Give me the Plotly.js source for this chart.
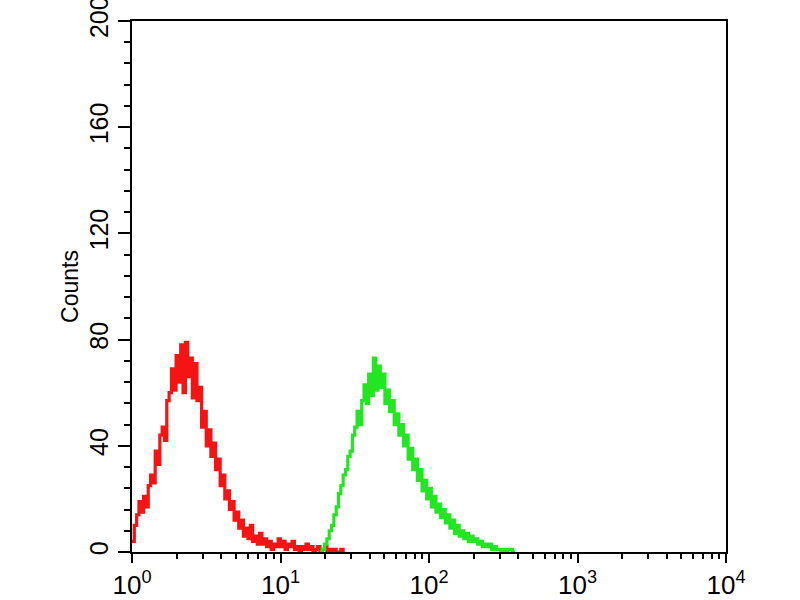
<!DOCTYPE html>
<html>
<head>
<meta charset="utf-8">
<script src="https://cdn.plot.ly/plotly-3.0.1.min.js"></script>
<style>html,body{margin:0;padding:0;background:#fff;}#chart{width:800px;height:600px;}</style>
</head>
<body>
<div id="chart"></div>
<script>
// Histogram channels: 256 log channels over 4 decades (64 channels per decade)
const channelsPerDecade = 64;

// Red histogram (control), counts per channel starting at channel 0
const redStartChannel = 0;
const redCounts = [4,10,14,19,15,21,17,25,29,26,38,33,44,47,42,57,60,69,61,74,
  64,78,60,79,66,73,58,71,57,62,47,53,40,46,36,41,31,35,25,29,
  20,23,16,19,12,15,9,12,6,9,5,10,4,6,3,7,3,5,2,4,
  1,3,2,5,2,4,1,3,2,4,1,2,0,2,1,3,1,2,0,1,
  2,0,1,2,0,1,0,1,0,0,1,0];

// Green histogram (antibody), counts per channel starting at channel 81
const greenStartChannel = 81;
const greenCounts = [0,1,3,5,8,10,14,17,22,25,29,31,36,38,44,47,53,48,57,63,
  56,67,59,73,61,70,62,67,56,61,53,57,48,52,44,48,40,44,35,39,
  31,35,27,31,23,27,20,24,17,21,15,18,13,16,11,14,9,12,7,10,
  6,8,5,7,4,6,4,5,3,4,2,3,2,3,1,2,1,1,0,1,0,1,1,0,0];

const xTickVals = [1, 10, 100, 1000, 10000];
const xTickText = ['10<sup>0</sup>', '10<sup>1</sup>', '10<sup>2</sup>', '10<sup>3</sup>', '10<sup>4</sup>'];
const yTitle = 'Counts';

function channelToValue(start, n) {
  const xs = [];
  for (let i = 0; i < n; i++) xs.push(Math.pow(10, (start + i) / channelsPerDecade));
  return xs;
}

const traces = [
  {
    x: channelToValue(redStartChannel, redCounts.length),
    y: redCounts,
    type: 'scatter', mode: 'lines',
    line: {color: '#f41414', width: 3.2, shape: 'hv'},
    hoverinfo: 'skip'
  },
  {
    x: channelToValue(greenStartChannel, greenCounts.length),
    y: greenCounts,
    type: 'scatter', mode: 'lines',
    line: {color: '#22e622', width: 3.2, shape: 'hv'},
    hoverinfo: 'skip'
  }
];

const font = {family: '"Liberation Sans", Arial, sans-serif', color: '#000'};

const layout = {
  width: 800, height: 600,
  margin: {l: 132, r: 74, t: 21, b: 48},
  paper_bgcolor: '#fff', plot_bgcolor: '#fff',
  showlegend: false,
  font: font,
  xaxis: {
    type: 'log', range: [0, 4],
    tickmode: 'array', tickvals: xTickVals, ticktext: xTickText,
    ticks: 'outside', ticklen: 9, tickwidth: 2, tickcolor: '#000',
    minor: {ticks: 'outside', ticklen: 5, tickwidth: 2, tickcolor: '#000', dtick: 'D1', showgrid: false},
    showline: true, linewidth: 2, linecolor: '#000', mirror: true,
    showgrid: false, zeroline: false,
    ticklabeloverflow: 'allow',
    tickfont: {family: font.family, size: 26, color: '#000'}
  },
  yaxis: {
    range: [0, 200], tick0: 0, dtick: 40, tickangle: -90,
    ticks: 'outside', ticklen: 12, tickwidth: 2, tickcolor: '#000',
    minor: {ticks: 'outside', ticklen: 6, tickwidth: 2, tickcolor: '#000', dtick: 8, showgrid: false},
    showline: true, linewidth: 2, linecolor: '#000', mirror: true,
    showgrid: false, zeroline: false,
    ticklabeloverflow: 'allow',
    tickfont: {family: font.family, size: 25, color: '#000'},
    title: {text: yTitle, font: {family: font.family, size: 23, color: '#000'}, standoff: 0}
  }
};

Plotly.newPlot('chart', traces, layout, {staticPlot: true, displayModeBar: false});
</script>
</body>
</html>
